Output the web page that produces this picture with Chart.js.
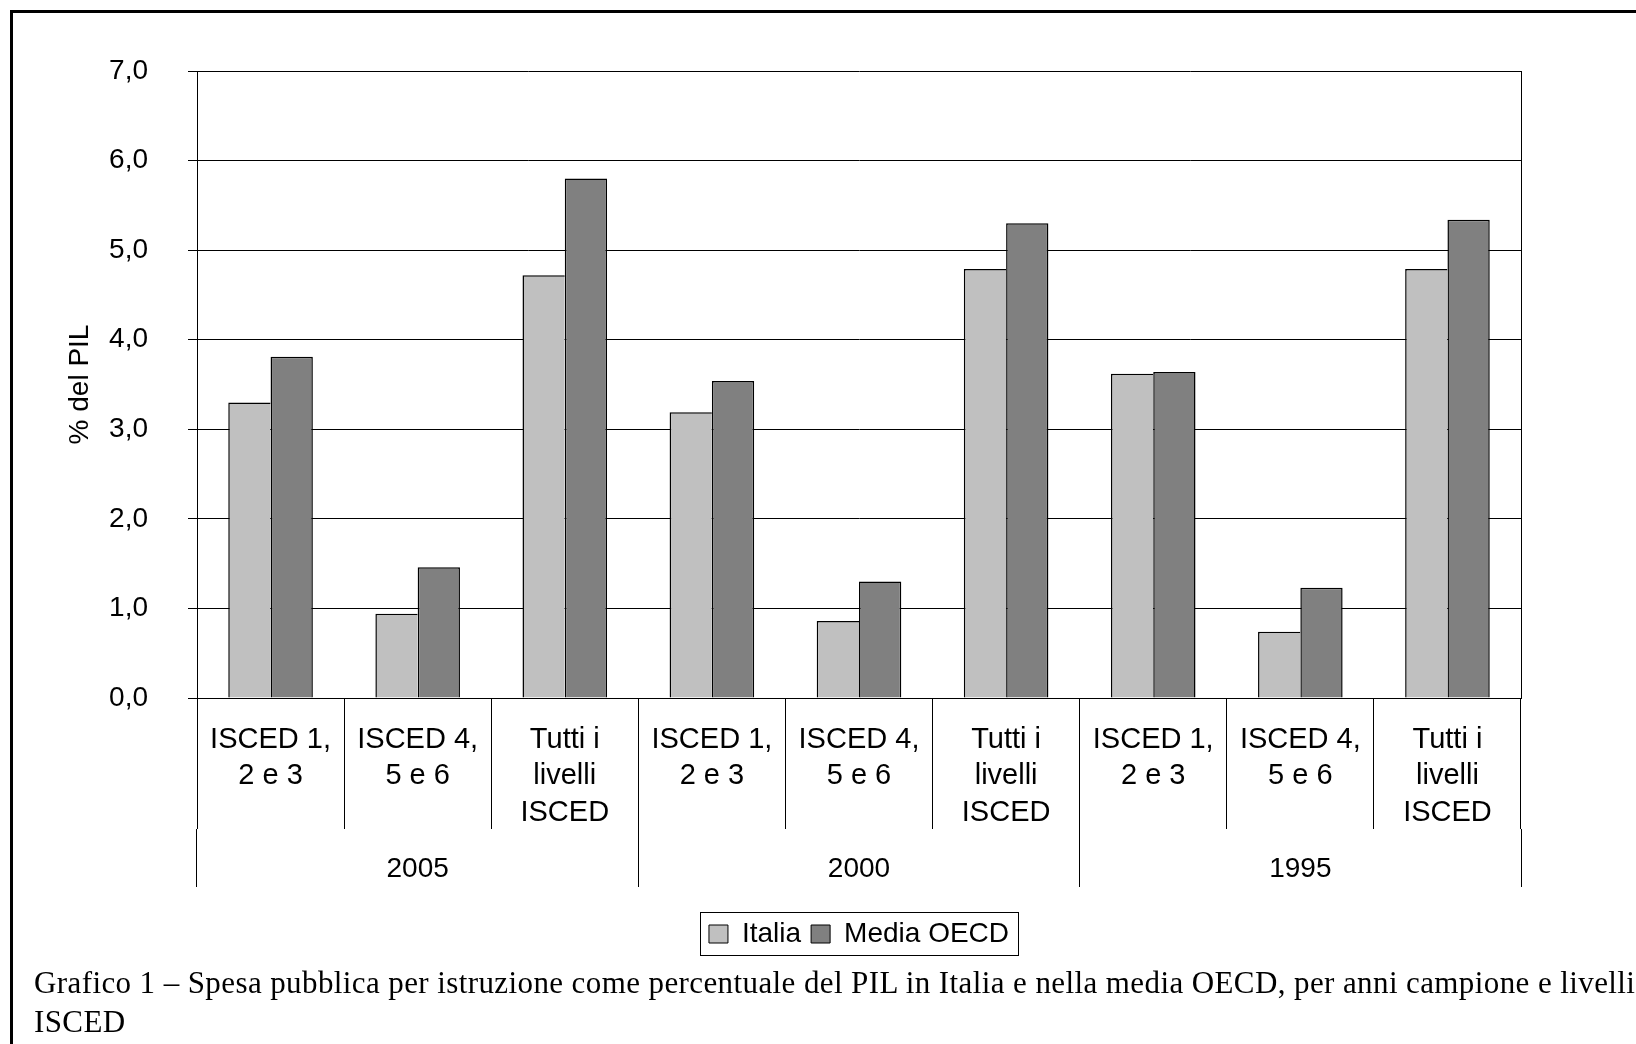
<!DOCTYPE html>
<html>
<head>
<meta charset="utf-8">
<script src="https://cdn.jsdelivr.net/npm/chart.js@4.4.1/dist/chart.umd.min.js"></script>
<style>
  html, body { margin: 0; padding: 0; background: #fff; overflow: hidden; }
  body { width: 1636px; height: 1044px; position: relative; }
  #frame {
    position: absolute; left: 10px; top: 10px; width: 2000px; height: 2000px;
    border-left: 3px solid #000; border-top: 3px solid #000; box-sizing: border-box;
  }
  #wrap { position: absolute; left: 0; top: 0; width: 1636px; height: 1044px; }
  #caption {
    position: absolute; left: 34px; top: 963px;
    font-family: 'Liberation Serif', 'Times New Roman', serif;
    font-size: 31px; letter-spacing: 0.4px; line-height: 39px; white-space: nowrap; color: #000;
  }
</style>
</head>
<body>
<div id="frame"></div>
<div id="wrap"><canvas id="chart" width="1636" height="1044"></canvas></div>
<div id="caption">Grafico 1 – Spesa pubblica per istruzione come percentuale del PIL in Italia e nella media OECD, per anni campione e livelli<br>ISCED</div>
<script>
// Sample years (outer category level) and ISCED levels (inner level)
const years = ['2005', '2000', '1995'];
const levels = [
  ['ISCED 1,', '2 e 3'],
  ['ISCED 4,', '5 e 6'],
  ['Tutti i', 'livelli', 'ISCED']
];
const categories = years.flatMap(() => levels);

// Public education spending, % of GDP
const italia    = [3.30, 0.94, 4.72, 3.19, 0.86, 4.79, 3.62, 0.74, 4.79];
const mediaOecd = [3.81, 1.46, 5.80, 3.54, 1.30, 5.30, 3.64, 1.23, 5.34];

const yTickLabels = ['0,0', '1,0', '2,0', '3,0', '4,0', '5,0', '6,0', '7,0'];

const FONT = "'Liberation Sans', Arial, sans-serif";
Chart.defaults.font.family = FONT;
Chart.defaults.font.size = 28;
Chart.defaults.color = '#000';

// Frame around the legend row
const legendFrame = {
  id: 'legendFrame',
  afterDraw(chart) {
    const lg = chart.legend;
    if (!lg || !lg.legendHitBoxes || !lg.legendHitBoxes.length) return;
    const hb = lg.legendHitBoxes;
    const left = Math.min(...hb.map(b => b.left)) - 9;
    const right = Math.max(...hb.map(b => b.left + b.width)) + 9;
    const cy = hb[0].top + hb[0].height / 2;
    const ctx = chart.ctx;
    ctx.save();
    ctx.strokeStyle = '#000';
    ctx.lineWidth = 1;
    ctx.strokeRect(Math.round(left) + 0.5, Math.round(cy - 22) + 0.5, Math.round(right - left), 43);
    ctx.restore();
  }
};

new Chart(document.getElementById('chart'), {
  type: 'bar',
  data: {
    labels: categories,
    datasets: [
      {
        label: 'Italia',
        data: italia,
        backgroundColor: '#c0c0c0',
        borderColor: '#000',
        borderWidth: { top: 1.5, left: 1.5, right: 0, bottom: 0 },
        borderSkipped: false,
        xAxisID: 'x', yAxisID: 'y'
      },
      {
        label: 'Media OECD',
        data: mediaOecd,
        backgroundColor: '#808080',
        borderColor: '#000',
        borderWidth: { top: 1.5, left: 1.5, right: 1.5, bottom: 0 },
        borderSkipped: false,
        xAxisID: 'x', yAxisID: 'y'
      }
    ]
  },
  options: {
    responsive: false,
    animation: false,
    devicePixelRatio: 1,
    layout: { padding: { left: 0, top: 71, right: 115, bottom: 86 } },
    datasets: { bar: { categoryPercentage: 0.575, barPercentage: 1.0 } },
    scales: {
      y: {
        position: 'left',
        min: 0, max: 7,
        ticks: {
          stepSize: 1, padding: 40, color: '#000',
          font: { size: 28 },
          callback: (v, i) => yTickLabels[i]
        },
        grid: { color: '#000', lineWidth: 1, tickLength: 9 },
        border: { display: true, color: '#000', width: 1 },
        title: {
          display: true, text: '% del PIL', color: '#000',
          font: { size: 28 }, padding: { top: 63, bottom: 0 }
        },
        afterFit(scale) { scale.width = 197; }
      },
      yRight: {
        type: 'linear',
        position: 'right',
        grid: { display: false, drawTicks: false },
        ticks: { display: false },
        border: { display: true, color: '#000', width: 1 },
        afterFit(scale) { scale.width = 0; }
      },
      x: {
        position: 'bottom',
        weight: 0,
        grid: { drawOnChartArea: false, offset: true, tickLength: 131, color: '#000', lineWidth: 1 },
        border: { display: true, color: '#000', width: 1 },
        ticks: {
          autoSkip: false, maxRotation: 0, minRotation: 0, padding: -107,
          color: '#000', font: { size: 29, lineHeight: 1.25 }
        },
        afterFit(scale) { scale.height = 131; }
      },
      x2: {
        type: 'category',
        position: 'bottom',
        weight: 1,
        labels: years,
        offset: true,
        grid: { drawOnChartArea: false, offset: true, tickLength: 58, color: '#000', lineWidth: 1 },
        border: { display: false },
        ticks: {
          autoSkip: false, maxRotation: 0, minRotation: 0, padding: -34,
          color: '#000', font: { size: 28, lineHeight: 1.15 }
        },
        afterFit(scale) { scale.height = 81; }
      }
    },
    plugins: {
      legend: {
        position: 'bottom',
        fullSize: false,
        labels: {
          boxWidth: 19, boxHeight: 18, padding: 10, color: '#000',
          font: { size: 28 },
          generateLabels(chart) {
            return Chart.defaults.plugins.legend.labels.generateLabels(chart)
              .map(l => Object.assign(l, { lineWidth: 1, strokeStyle: '#000' }));
          }
        }
      },
      tooltip: { enabled: false },
      title: { display: false }
    }
  },
  plugins: [legendFrame]
});
</script>
</body>
</html>
